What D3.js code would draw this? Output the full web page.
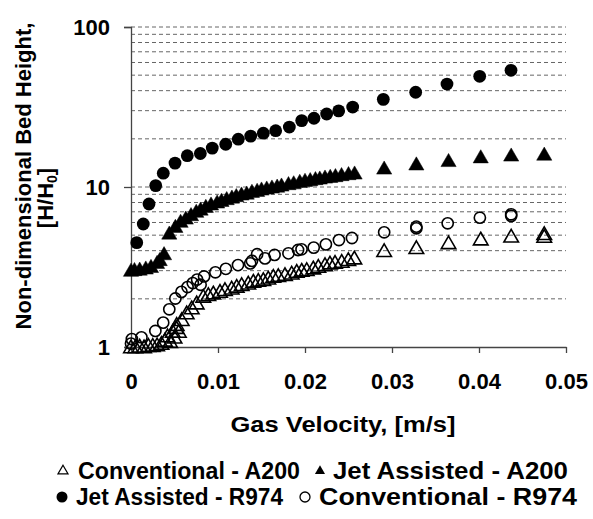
<!DOCTYPE html>
<html><head><meta charset="utf-8">
<script src="https://cdn.jsdelivr.net/npm/d3@7"></script>
<style>body{margin:0;background:#fff}text{font-family:"Liberation Sans",Arial,sans-serif;font-weight:bold;fill:#000}</style>
</head><body><svg id="c" width="593" height="519"></svg>
<script>
// ---- data ----
const xTicks = [0, 0.01, 0.02, 0.03, 0.04, 0.05];
const xTickLabels = ["0", "0.01", "0.02", "0.03", "0.04", "0.05"];
const yTicks = [1, 10, 100];
const yTickLabels = ["1", "10", "100"];

const convA200_x = [0,0.0005,0.001,0.0015,0.002,0.0025,0.003,0.0035,0.0039,0.0042,0.0045,0.0048,0.005,0.0052,0.0055,
  0.00525,0.00583,0.0064,0.00698,0.00755,0.00831,0.00889,0.00946,0.01023,0.0108,0.01157,0.01215,0.01272,0.01348,0.01406,
  0.01463,0.01521,0.01578,0.01636,0.01693,0.0177,0.01847,0.01905,0.01962,0.0202,0.02095,0.02153,0.0223,0.02287,0.02345,
  0.02422,0.02498,0.02567,0.0291,0.0328,0.0365,0.0402,0.0437,0.0475,0.0475];
const convA200_y = [1.0,1.0,1.01,1.0,1.02,1.02,1.03,1.05,1.1,1.17,1.08,1.25,1.15,1.32,1.25,
  1.38,1.48,1.63,1.75,1.88,2.07,2.12,2.17,2.22,2.28,2.33,2.39,2.45,2.50,2.57,
  2.60,2.63,2.69,2.76,2.79,2.83,2.89,2.96,3.01,3.04,3.11,3.18,3.26,3.34,3.37,
  3.42,3.51,3.59,3.99,4.17,4.47,4.72,4.92,5.1,4.9];

const jetA200_x = [0,0.0004,0.001,0.0017,0.0023,0.003,0.0033,0.0038,
  0.0044,0.0051,0.0057,0.0063,0.0069,0.0075,0.008,0.0086,0.0092,0.0099,0.0104,0.011,0.0116,0.0121,0.0127,0.0133,
  0.0139,0.0145,0.015,0.0156,0.0162,0.0168,0.0173,0.0181,0.0187,0.0194,0.02,0.0206,0.0212,0.0217,0.0223,0.0229,
  0.0235,0.0242,0.025,0.0257,0.0291,0.0328,0.0365,0.0402,0.0437,0.0475];
const jetA200_y = [3.01,3.04,3.06,3.11,3.18,3.37,3.51,3.82,
  5.14,5.66,6.09,6.38,6.70,7.03,7.26,7.55,7.81,8.04,8.23,8.44,8.63,8.81,9.02,9.14,
  9.37,9.51,9.69,9.83,9.97,10.1,10.26,10.47,10.6,10.82,10.98,11.09,11.25,11.35,11.51,11.63,
  11.75,11.92,12.09,12.2,13.1,13.9,14.6,15.4,15.8,16.0];

const jetR974_x = [0.00066,0.00141,0.00207,0.00284,0.00371,0.00506,0.00647,0.00797,0.00934,0.01089,0.01233,0.01376,
  0.01521,0.01663,0.0182,0.01962,0.02103,0.02249,0.02387,0.02548,0.029,0.03272,0.03632,0.04008,0.04368];
const jetR974_y = [4.49,5.87,7.83,10.2,12.2,14.1,15.7,16.2,17.5,18.5,19.9,20.8,
  21.7,22.5,23.7,26.0,26.9,28.6,29.9,31.6,35.3,39.1,44.0,49.2,53.6];

const convR974_x = [0,0.0001,0.0012,0.0028,0.0037,0.0044,0.0051,0.0058,0.0065,0.0071,0.0076,0.008,0.0084,0.0097,0.0109,
  0.0123,0.0137,0.0139,0.0145,0.0154,0.0165,0.0181,0.0192,0.0196,0.021,0.0224,0.0239,0.0254,
  0.0291,0.0328,0.0328,0.0364,0.0401,0.0437,0.0437];
const convR974_y = [1.05,1.12,1.15,1.26,1.42,1.72,2.01,2.21,2.37,2.51,2.64,2.45,2.76,2.93,3.08,
  3.25,3.33,3.45,3.8,3.58,3.76,3.85,4.04,4.08,4.18,4.38,4.66,4.8,
  5.21,5.52,5.65,5.93,6.43,6.75,6.6];

const legendRow1 = ["Conventional - A200", "Jet Assisted - A200"];
const legendRow2 = ["Jet Assisted - R974", "Conventional - R974"];

// ---- chart ----
const svg = d3.select("#c");
const x = d3.scaleLinear().domain([0, 0.05]).range([131, 566]);
const y = d3.scaleLog().domain([1, 100]).range([347, 27]);

// grid lines at minor + major log values
const gridVals = [];
[1, 10].forEach(d => { for (let k = 2; k <= 10; k++) gridVals.push(d * k); });
svg.append("g").selectAll("line").data(gridVals).join("line")
  .attr("x1", x(0)).attr("x2", x(0.05)).attr("y1", d => y(d)).attr("y2", d => y(d))
  .attr("stroke", "#666").attr("stroke-width", 1).attr("stroke-dasharray", "4,3");

// y axis
const yAxis = svg.append("g").attr("transform", `translate(${x(0)},0)`)
  .call(d3.axisLeft(y).tickValues(yTicks).tickFormat((d, i) => yTickLabels[i]).tickSize(7).tickPadding(14));
yAxis.select(".domain").attr("stroke", "#444").attr("stroke-width", 1.3);
yAxis.selectAll(".tick line").attr("stroke", "#444").attr("stroke-width", 1.3);
yAxis.selectAll("text").attr("font-size", 22).attr("font-family", "Liberation Sans, Arial").attr("font-weight", "bold").attr("fill", "#000");

// x axis
const xAxis = svg.append("g").attr("transform", `translate(0,${y(1)})`)
  .call(d3.axisBottom(x).tickValues(xTicks).tickFormat((d, i) => xTickLabels[i]).tickSize(6).tickPadding(20).tickSizeOuter(0));
xAxis.select(".domain").attr("stroke", "#444").attr("stroke-width", 1.3);
xAxis.selectAll(".tick line").attr("stroke", "#444").attr("stroke-width", 1.3);
xAxis.selectAll("text").attr("font-size", 22).attr("font-family", "Liberation Sans, Arial").attr("font-weight", "bold").attr("fill", "#000");

// markers
function drawTri(xs, ys, filled) {
  const sym = d3.symbol().type(d3.symbolTriangle).size(filled ? 100 : 92);
  svg.append("g").selectAll("path").data(xs.map((v, i) => [v, ys[i]])).join("path")
    .attr("d", sym)
    .attr("transform", d => `translate(${x(d[0])},${y(d[1]) + 1.5})`)
    .attr("fill", filled ? "#000" : "none")
    .attr("stroke", "#000").attr("stroke-width", filled ? 0.5 : 1.6).attr("stroke-linejoin", "miter");
}
function drawCirc(xs, ys, filled) {
  svg.append("g").selectAll("circle").data(xs.map((v, i) => [v, ys[i]])).join("circle")
    .attr("cx", d => x(d[0])).attr("cy", d => y(d[1]))
    .attr("r", filled ? 6.4 : 5.6)
    .attr("fill", filled ? "#000" : "none")
    .attr("stroke", "#000").attr("stroke-width", filled ? 0 : 1.6);
}
drawTri(convA200_x, convA200_y, false);
drawCirc(convR974_x, convR974_y, false);
drawTri(jetA200_x, jetA200_y, true);
drawCirc(jetR974_x, jetR974_y, true);

// axis titles
svg.append("text").attr("x", 343).attr("y", 432).attr("text-anchor", "middle")
  .attr("font-size", 22).attr("textLength", 225).attr("lengthAdjust", "spacingAndGlyphs")
  .text("Gas Velocity, [m/s]");
svg.append("text").attr("transform", "translate(31,176) rotate(-90)").attr("text-anchor", "middle")
  .attr("font-size", 22).text("Non-dimensional Bed Height,");
const t2 = svg.append("text").attr("transform", "translate(53,198) rotate(-90)").attr("text-anchor", "middle")
  .attr("font-size", 22);
t2.append("tspan").text("[H/H");
t2.append("tspan").attr("font-size", 14).attr("dy", 4).text("0");
t2.append("tspan").attr("dy", -4).text("]");

// legend
const lg = svg.append("g");
const symSmall = d3.symbol().type(d3.symbolTriangle).size(44);
lg.append("path").attr("d", symSmall).attr("transform", "translate(63,471)").attr("fill", "none").attr("stroke", "#000").attr("stroke-width", 1.2);
lg.append("text").attr("x", 78).attr("y", 479).attr("font-size", 23).attr("textLength", 222).attr("lengthAdjust", "spacingAndGlyphs").text(legendRow1[0]);
lg.append("path").attr("d", symSmall).attr("transform", "translate(320,471)").attr("fill", "#000");
lg.append("text").attr("x", 333).attr("y", 479).attr("font-size", 23).attr("textLength", 235).attr("lengthAdjust", "spacingAndGlyphs").text(legendRow1[1]);
lg.append("circle").attr("cx", 62).attr("cy", 497).attr("r", 5.5).attr("fill", "#000");
lg.append("text").attr("x", 76).attr("y", 505).attr("font-size", 23).attr("textLength", 207).attr("lengthAdjust", "spacingAndGlyphs").text(legendRow2[0]);
lg.append("circle").attr("cx", 305).attr("cy", 497).attr("r", 5).attr("fill", "none").attr("stroke", "#000").attr("stroke-width", 1.3);
lg.append("text").attr("x", 319).attr("y", 505).attr("font-size", 23).attr("textLength", 258).attr("lengthAdjust", "spacingAndGlyphs").text(legendRow2[1]);
</script></body></html>
